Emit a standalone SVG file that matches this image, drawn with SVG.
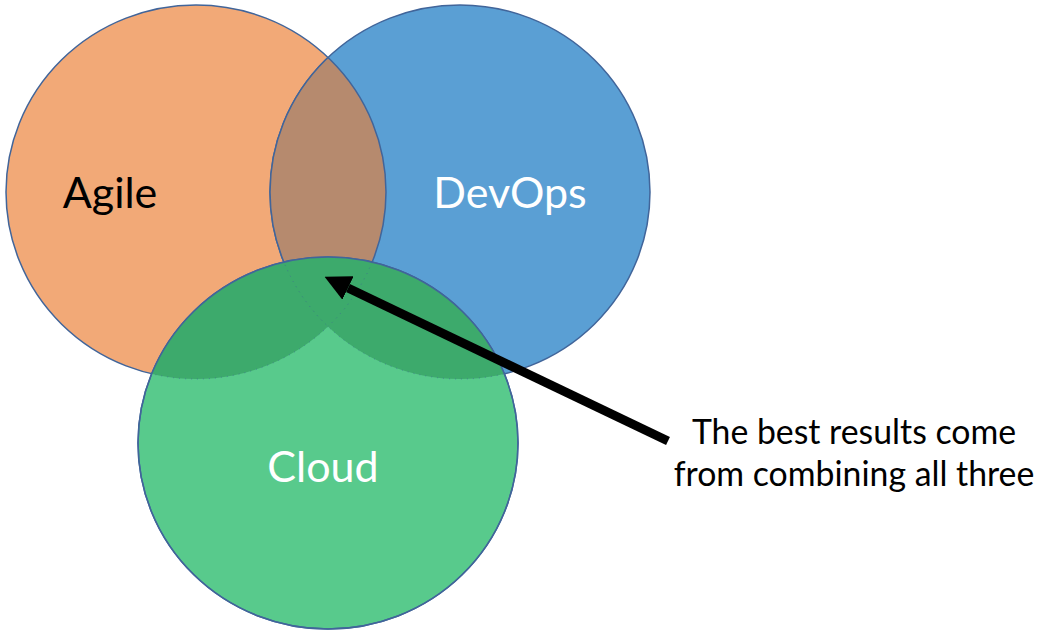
<svg xmlns="http://www.w3.org/2000/svg" width="1039" height="636" viewBox="0 0 1039 636">
<style>
.c{stroke:#41659A;stroke-width:1.5}
.lbl{font-family:Lato,"Open Sans",sans-serif;font-size:43px;text-anchor:middle}
.note{font-family:Lato,"Open Sans",sans-serif;font-size:33.8px;text-anchor:middle;fill:#000}
.dot{fill:none;stroke:#41659A;stroke-width:1;stroke-dasharray:1 5;opacity:0.6}
</style>
<defs>
<clipPath id="clipA"><ellipse cx="196" cy="192" rx="190" ry="187"/></clipPath>
<clipPath id="clipD"><ellipse cx="460" cy="192" rx="190" ry="187"/></clipPath>
<clipPath id="clipC"><ellipse cx="328" cy="443" rx="190" ry="186"/></clipPath>
<marker id="ah" viewBox="0 0 26 26" refX="0" refY="13" markerWidth="26" markerHeight="26" markerUnits="userSpaceOnUse" orient="auto">
<path d="M0,0 L26,13 L0,26 z" fill="#000"/>
</marker>
</defs>
<rect width="1039" height="636" fill="#fff"/>
<g id="agile">
<ellipse cx="196" cy="192" rx="190" ry="187" fill="#F2A977" class="c"/>
</g>
<g id="devops">
<ellipse cx="460" cy="192" rx="190" ry="187" fill="#5A9FD4" class="c"/>
<ellipse cx="460" cy="192" rx="190" ry="187" fill="#B68A6E" clip-path="url(#clipA)"/>
<ellipse cx="196" cy="192" rx="190" ry="187" fill="none" class="c" clip-path="url(#clipD)"/>
<ellipse cx="460" cy="192" rx="190" ry="187" fill="none" class="c" clip-path="url(#clipA)"/>
</g>
<g id="cloud">
<ellipse cx="328" cy="443" rx="190" ry="186" fill="#58CA8C" class="c"/>
<g clip-path="url(#clipC)">
<ellipse cx="196" cy="192" rx="190" ry="187" fill="#3DAA6C"/>
<ellipse cx="460" cy="192" rx="190" ry="187" fill="#3DAA6C"/>
<ellipse cx="196" cy="192" rx="190" ry="187" class="dot"/>
<ellipse cx="460" cy="192" rx="190" ry="187" class="dot"/>
</g>
<ellipse cx="328" cy="443" rx="190" ry="186" fill="none" class="c"/>
</g>
<g id="labels">
<text class="lbl" x="110" y="208" fill="#000">Agile</text>
<text class="lbl" x="510" y="208" fill="#fff">DevOps</text>
<text class="lbl" x="323" y="482" fill="#fff">Cloud</text>
</g>
<g id="connectors">
<line x1="668" y1="441" x2="348" y2="288" stroke="#000" stroke-width="9" marker-end="url(#ah)"/>
</g>
<g id="note">
<text class="note" x="854" y="444">The best results come</text>
<text class="note" x="854" y="486">from combining all three</text>
</g>
</svg>
